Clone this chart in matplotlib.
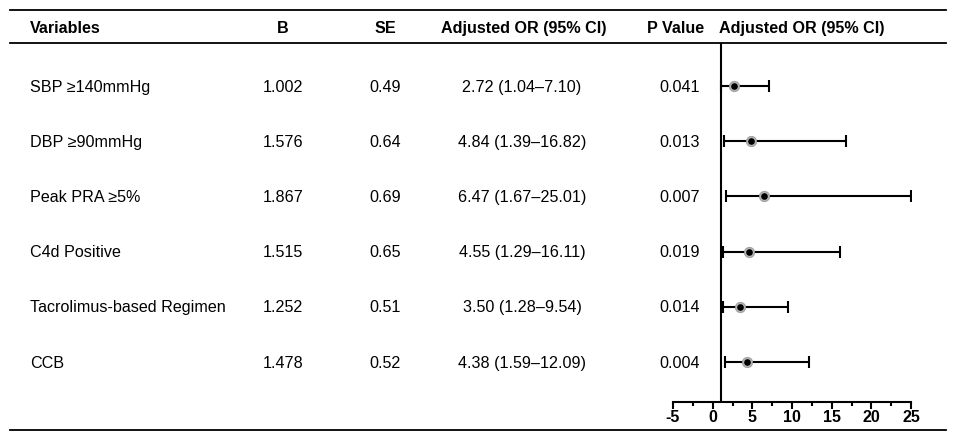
import matplotlib.pyplot as plt
from matplotlib.lines import Line2D
from matplotlib.ticker import MultipleLocator

plt.rcParams['font.family'] = ['Liberation Sans', 'DejaVu Sans']
plt.rcParams['axes.unicode_minus'] = False

# table data
variables = ['SBP \u2265140mmHg', 'DBP \u226590mmHg', 'Peak PRA \u22655%',
             'C4d Positive', 'Tacrolimus-based Regimen', 'CCB']
b_vals = ['1.002', '1.576', '1.867', '1.515', '1.252', '1.478']
se_vals = ['0.49', '0.64', '0.69', '0.65', '0.51', '0.52']
p_vals = ['0.041', '0.013', '0.007', '0.019', '0.014', '0.004']
odds = [2.72, 4.84, 6.47, 4.55, 3.50, 4.38]
ci_low = [1.04, 1.39, 1.67, 1.29, 1.28, 1.59]
ci_high = [7.10, 16.82, 25.01, 16.11, 9.54, 12.09]
headers = ['Variables', 'B', 'SE', 'Adjusted OR (95% CI)', 'P Value', 'Adjusted OR (95% CI)']

W, H = 957, 441
fs = 11.6
fig = plt.figure(figsize=(W / 100, H / 100), dpi=100)

def fx(px):
    return px / W

def fy(py):
    return 1 - py / H

# horizontal rules
for y in (10, 43, 430):
    fig.add_artist(Line2D([fx(10), fx(946)], [fy(y), fy(y)], color='black', lw=1.3))

# header
hy = fy(27)
hdr_x = [30, 283, 385, 524, 676, 802]
for j, (h, x) in enumerate(zip(headers, hdr_x)):
    fig.text(fx(x), hy, h, ha='left' if j == 0 else 'center', va='center_baseline',
             fontsize=fs, fontweight='bold')

# rows
row_y = [86, 141, 196, 251, 306, 362]
for i, y in enumerate(row_y):
    ty = fy(y)
    or_txt = f'{odds[i]:.2f} ({ci_low[i]:.2f}\u2013{ci_high[i]:.2f})'
    fig.text(fx(30), ty, variables[i], ha='left', va='center_baseline', fontsize=fs)
    fig.text(fx(283), ty, b_vals[i], ha='center', va='center_baseline', fontsize=fs)
    fig.text(fx(385), ty, se_vals[i], ha='center', va='center_baseline', fontsize=fs)
    fig.text(fx(522), ty, or_txt, ha='center', va='center_baseline', fontsize=fs)
    fig.text(fx(680), ty, p_vals[i], ha='center', va='center_baseline', fontsize=fs)

# forest plot axes
ax = fig.add_axes([fx(673), fy(402), fx(911) - fx(673), fy(43) - fy(402)])
ax.set_xlim(-5, 25)
ax.set_ylim(5 + 40 / 55.2, -43 / 55.2)
ax.patch.set_alpha(0)

ys = list(range(len(odds)))
xerr = [[o - l for o, l in zip(odds, ci_low)], [h - o for o, h in zip(odds, ci_high)]]
ax.errorbar(odds, ys, xerr=xerr, fmt='none', ecolor='black', elinewidth=1.5,
            capsize=4, capthick=1.5, zorder=2)
ax.scatter(odds, ys, s=55, color='#b4b4b4', edgecolors='#999999', linewidths=0.6, zorder=3)
ax.scatter(odds, ys, s=14, color='black', zorder=4)
ax.axvline(1, color='black', lw=1.5, zorder=1)

for s in ('left', 'right', 'top'):
    ax.spines[s].set_visible(False)
ax.spines['bottom'].set_linewidth(1.5)
ax.set_yticks([])
ax.xaxis.set_major_locator(MultipleLocator(5))
ax.xaxis.set_minor_locator(MultipleLocator(2.5))
ax.tick_params(axis='x', which='major', length=5, width=1.5, labelsize=fs, pad=1)
ax.tick_params(axis='x', which='minor', length=3, width=1.5)
for lbl in ax.get_xticklabels():
    lbl.set_fontweight('bold')

fig.savefig('out.png', dpi=100)
